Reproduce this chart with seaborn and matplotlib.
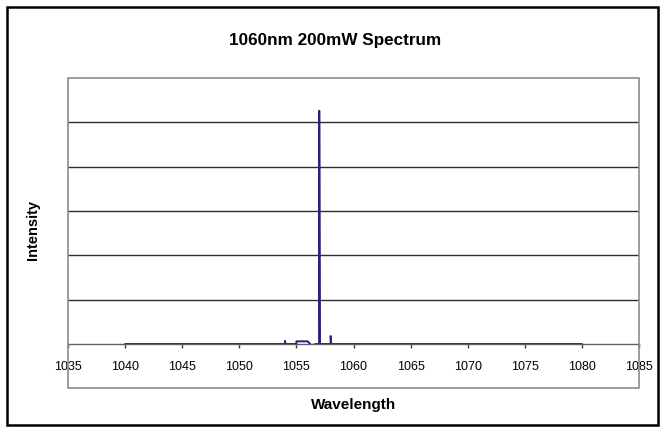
import matplotlib
matplotlib.use("Agg")
import matplotlib.pyplot as plt
from matplotlib.patches import Rectangle
import seaborn as sns
import pandas as pd

wavelength = [1040.0, 1054.0, 1054.0, 1054.05, 1055.0, 1055.0, 1056.0, 1056.3,
              1056.7, 1057.0, 1057.0, 1057.05, 1057.1, 1058.0, 1058.0, 1058.05, 1080.0]
intensity = [0.0, 0.0, 0.07, 0.0, 0.0, 0.06, 0.06, -0.03,
             0.0, 0.0, 5.26, 0.0, 0.0, 0.0, 0.18, 0.0, 0.0]
x_ticks = [1035, 1040, 1045, 1050, 1055, 1060, 1065, 1070, 1075, 1080, 1085]
title = "1060nm 200mW Spectrum"
x_label = "Wavelength"
y_label = "Intensity"

sns.set_style("white")
plt.rcParams["font.family"] = ["Liberation Sans", "DejaVu Sans"]
plt.rcParams["text.color"] = "black"

W, H = 665, 432
fig = plt.figure(figsize=(W / 100, H / 100), dpi=100)
ax = fig.add_axes([68 / W, (H - 344) / H, (639 - 68) / W, (344 - 78) / H])

df = pd.DataFrame({"wavelength": wavelength, "intensity": intensity})
sns.lineplot(data=df, x="wavelength", y="intensity", ax=ax, color="#23237a",
             linewidth=1.4, sort=False, estimator=None)

ax.set_xlim(1035, 1085)
ax.set_ylim(0, 6)
ax.set_xticks(x_ticks)
ax.set_xticklabels([str(t) for t in x_ticks], fontsize=9)
ax.set_yticks([])
for yv in range(1, 6):
    ax.axhline(yv, color="#2e2e2e", linewidth=1.0, zorder=0)
ax.tick_params(axis="x", direction="out", length=3, width=1, color="#404040",
               pad=9, labelcolor="black", bottom=True)
for side in ["top", "right", "left"]:
    ax.spines[side].set_visible(False)
ax.spines["bottom"].set_color("#606060")
ax.spines["bottom"].set_linewidth(1.0)
ax.set_xlabel("")
ax.set_ylabel("")

# plot-area frame (Excel-style, encloses tick labels)
fig.patches.append(Rectangle((68 / W, (H - 388) / H), (639 - 68) / W, (388 - 78) / H,
                             transform=fig.transFigure, fill=False,
                             edgecolor="#8c8c8c", linewidth=1.2, zorder=5))
# chart outer border
fig.patches.append(Rectangle((7 / W, 7 / H), (658 - 7) / W, (425 - 7) / H,
                             transform=fig.transFigure, fill=False,
                             edgecolor="black", linewidth=1.8, zorder=5))

fig.text(335 / W, 1 - 40 / H, title, ha="center", va="center",
         fontsize=12.3, fontweight="bold", color="black")
fig.text(354 / W, 1 - 405 / H, x_label, ha="center", va="center",
         fontsize=11, fontweight="bold", color="black")
fig.text(33 / W, 1 - 230 / H, y_label, ha="center", va="center",
         fontsize=10.5, fontweight="bold", rotation=90, color="black")

fig.savefig("out.png", dpi=100)
